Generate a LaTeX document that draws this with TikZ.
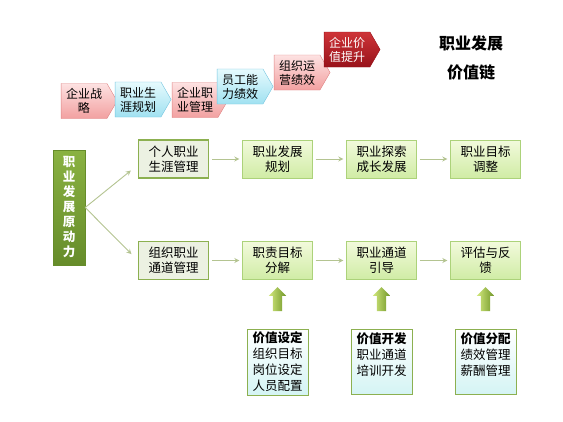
\documentclass[tikz,border=0pt]{standalone}
\usepackage{fontspec}
\setmainfont{Noto Sans CJK SC}
\usetikzlibrary{positioning, calc, arrows.meta, shapes.symbols, shapes.arrows}
\definecolor{cPkT}{RGB}{253,226,226}
\definecolor{cPkB}{RGB}{242,160,160}
\definecolor{cPkD}{RGB}{224,132,132}
\definecolor{cBlT}{RGB}{230,250,253}
\definecolor{cBlB}{RGB}{160,225,241}
\definecolor{cBlD}{RGB}{118,198,224}
\definecolor{cRdT}{RGB}{206,52,56}
\definecolor{cRdB}{RGB}{152,18,26}
\definecolor{cGnT}{RGB}{242,250,220}
\definecolor{cGnB}{RGB}{208,236,165}
\definecolor{cGnD}{RGB}{172,210,122}
\definecolor{cHdD}{RGB}{140,176,80}
\definecolor{cHdF}{RGB}{236,241,226}
\definecolor{cDrT}{RGB}{138,178,66}
\definecolor{cDrB}{RGB}{102,140,42}
\definecolor{cLn}{RGB}{180,196,145}
\definecolor{cVlB}{RGB}{212,244,244}
\definecolor{cUpL}{RGB}{210,232,125}
\definecolor{cUpR}{RGB}{112,150,40}

\begin{document}
\begin{tikzpicture}[x=1pt, y=-1pt, on grid, node distance=104pt,
    stage/.style={shape=signal, signal to=east, signal pointer angle=120,
      minimum width=56pt, minimum height=35pt, inner sep=1pt, align=center,
      font=\fontsize{12}{14}\selectfont},
    pinkstage/.style={stage, draw=cPkD, top color=cPkT, bottom color=cPkB},
    bluestage/.style={stage, draw=cBlD, top color=cBlT, bottom color=cBlB},
    topstage/.style={stage, draw=cRdB, top color=cRdT, bottom color=cRdB, text=white},
    stepbox/.style={draw=cGnD, top color=cGnT, bottom color=cGnB,
      minimum width=70pt, minimum height=38pt, align=center, inner sep=2pt,
      font=\fontsize{12.5}{15}\selectfont},
    headbox/.style={stepbox, draw=cHdD, line width=1.3pt, top color=cHdF, bottom color=cHdF},
    valbox/.style={draw=cHdD, line width=0.9pt, top color=white, bottom color=cVlB,
      minimum width=61pt, align=center, inner sep=3pt,
      font=\fontsize{12.5}{16}\selectfont},
    uparrow/.style={shape=single arrow, shape border rotate=90, draw=none,
      left color=cUpL, right color=cUpR, minimum height=24pt,
      inner sep=4.5pt, single arrow head extend=4pt, single arrow head indent=0pt},
    flow/.style={draw=cLn, line width=0.9pt, -{Stealth[length=5pt, width=5pt, open]}}]

  \fill[white] (0,0) rectangle (563,421);
  \useasboundingbox (0,0) rectangle (563,421);

  % value chain stages
  \node[pinkstage] (s1) at (84,101)    {企业战\\略};
  \node[bluestage] (s2) at (138,99.5)  {职业生\\涯规划};
  \node[pinkstage] (s3) at (195,100)   {企业职\\业管理};
  \node[bluestage] (s4) at (240,86.5)  {员工能\\力绩效};
  \node[pinkstage] (s5) at (297,72.5)  {组织运\\营绩效};
  \node[topstage]  (s6) at (347,49.5)  {企业价\\值提升};

  \node[font=\bfseries\fontsize{16}{18}\selectfont] (ttl1) at (471,43) {职业发展};
  \node[font=\bfseries\fontsize{16}{18}\selectfont] (ttl2) at (471,72) {价值链};

  % driving force
  \node[top color=cDrT, bottom color=cDrB, draw=cDrB, minimum width=32pt, minimum height=115pt,
        text=white, align=center, font=\bfseries\fontsize{12.5}{15}\selectfont] (drive) at (69,207.5)
        {职\\业\\发\\展\\原\\动\\力};

  % personal line
  \node[headbox] (p1) at (173.5,159) {个人职业\\生涯管理};
  \node[stepbox] (p2) [right=of p1] {职业发展\\规划};
  \node[stepbox] (p3) [right=of p2] {职业探索\\成长发展};
  \node[stepbox] (p4) [right=of p3] {职业目标\\调整};

  % organisation line
  \node[headbox] (q1) [below=101.5pt of p1] {组织职业\\通道管理};
  \node[stepbox] (q2) [right=of q1] {职责目标\\分解};
  \node[stepbox] (q3) [right=of q2] {职业通道\\引导};
  \node[stepbox] (q4) [right=of q3] {评估与反\\馈};

  \draw[flow, shorten >=9pt] (drive.east) -- ($(p1.west)!0.3!(p1.south west)$);
  \draw[flow, shorten >=9pt] (drive.east) -- (q1.west);
  \foreach \a/\b in {p1/p2, p2/p3, p3/p4, q1/q2, q2/q3, q3/q4}
    \draw[flow, shorten <=3pt, shorten >=3pt] (\a) -- (\b);

  % value levers
  \node[uparrow] (u1) [below=41pt of q2] {};
  \node[uparrow] (u2) [below=41pt of q3] {};
  \node[uparrow] (u3) [below=41pt of q4] {};

  \node[valbox] (v1) [below=101.5pt of q2] {\textbf{价值设定}\\组织目标\\岗位设定\\人员配置};
  \node[valbox] (v2) [below=101.5pt of q3] {\textbf{价值开发}\\职业通道\\培训开发\\\mbox{}};
  \node[valbox] (v3) [below=101.5pt of q4] {\textbf{价值分配}\\绩效管理\\薪酬管理\\\mbox{}};
\end{tikzpicture}
\end{document}
